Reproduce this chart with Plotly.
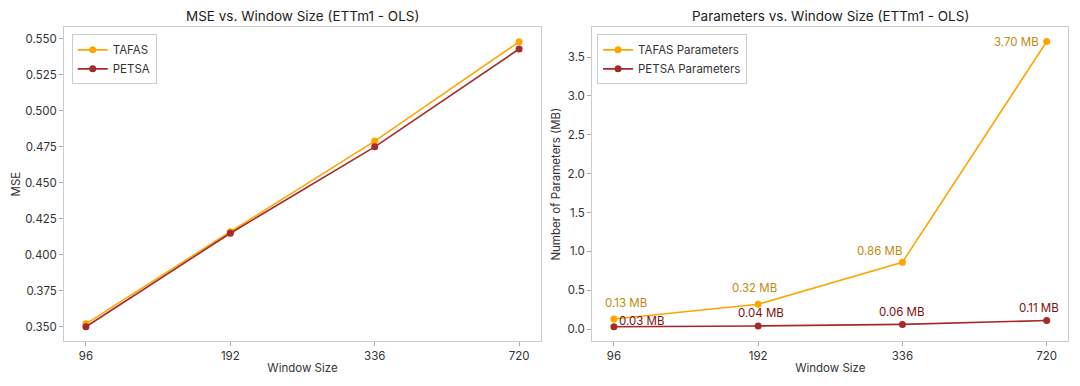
import plotly.graph_objects as go

# Data
window_sizes = ["96", "192", "336", "720"]
tafas_mse = [0.352, 0.416, 0.479, 0.548]
petsa_mse = [0.350, 0.415, 0.475, 0.543]
tafas_params = [0.13, 0.32, 0.86, 3.70]
petsa_params = [0.03, 0.04, 0.06, 0.11]

ORANGE = '#FFA500'
BROWN = '#A52A2A'
GOLD_TEXT = '#C08A10'
RED_TEXT = '#7A1010'
FRAME = '#cccccc'
TEXT = '#333333'

fig = go.Figure()

# MSE chart
fig.add_trace(go.Scatter(x=window_sizes, y=tafas_mse, mode='lines+markers', name='TAFAS',
                         line=dict(color=ORANGE, width=1.6), marker=dict(size=7),
                         xaxis='x', yaxis='y', legend='legend'))
fig.add_trace(go.Scatter(x=window_sizes, y=petsa_mse, mode='lines+markers', name='PETSA',
                         line=dict(color=BROWN, width=1.6), marker=dict(size=7),
                         xaxis='x', yaxis='y', legend='legend'))

# Parameter chart
fig.add_trace(go.Scatter(x=window_sizes, y=tafas_params, mode='lines+markers', name='TAFAS Parameters',
                         line=dict(color=ORANGE, width=1.6), marker=dict(size=7),
                         xaxis='x2', yaxis='y2', legend='legend2'))
fig.add_trace(go.Scatter(x=window_sizes, y=petsa_params, mode='lines+markers', name='PETSA Parameters',
                         line=dict(color=BROWN, width=1.6), marker=dict(size=7),
                         xaxis='x2', yaxis='y2', legend='legend2'))

# value labels (pixel offsets from each point); category axes want the index here
tafas_shift = [(12, 16), (-4, 16), (-23, 11), (-30, 0)]
petsa_shift = [(28, 6), (3, 13), (0, 12), (-8, 13)]
annotations = []
for ys, shifts, col in [(tafas_params, tafas_shift, GOLD_TEXT),
                        (petsa_params, petsa_shift, RED_TEXT)]:
    for i, (y, (dx, dy)) in enumerate(zip(ys, shifts)):
        annotations.append(dict(x=i, y=y, xref='x2', yref='y2', text=f'{y:.2f} MB',
                                showarrow=False, xshift=dx, yshift=dy,
                                font=dict(size=11.5, color=col)))

# subplot titles
annotations.append(dict(x=(0.0595 + 0.5007) / 2, y=1, xref='paper', yref='paper', yshift=-16,
                        text='MSE vs. Window Size (ETTm1 - OLS)', showarrow=False,
                        xanchor='center', yanchor='middle', font=dict(size=13.5, color='#222')))
annotations.append(dict(x=(0.5484 + 0.9892) / 2, y=1, xref='paper', yref='paper', yshift=-16,
                        text='Parameters vs. Window Size (ETTm1 - OLS)', showarrow=False,
                        xanchor='center', yanchor='middle', font=dict(size=13.5, color='#222')))

xaxis_style = dict(type='category', range=[-0.15, 3.15], showline=True, mirror=True,
                   linecolor=FRAME, linewidth=1.2, ticks='outside', ticklen=4, tickcolor='#aaaaaa',
                   showgrid=False, zeroline=False, tickfont=dict(size=11.5, color=TEXT),
                   title=dict(text='Window Size', font=dict(size=11.5, color=TEXT), standoff=2))
yaxis_style = dict(showline=True, mirror=True, linecolor=FRAME, linewidth=1.2, ticks='outside',
                   ticklen=4, tickcolor='#aaaaaa', showgrid=False, zeroline=False,
                   tickfont=dict(size=11.5, color=TEXT))

fig.update_layout(
    width=1080, height=386,
    margin=dict(l=0, r=0, t=0, b=0),
    paper_bgcolor='white', plot_bgcolor='white',
    font=dict(family='Inter, Roboto, sans-serif', color=TEXT),
    xaxis=dict(domain=[0.0595, 0.5007], anchor='y', **xaxis_style),
    yaxis=dict(domain=[0.1166, 0.9293], anchor='x', range=[0.3401, 0.5581],
               tickvals=[0.350, 0.375, 0.400, 0.425, 0.450, 0.475, 0.500, 0.525, 0.550],
               tickformat='.3f',
               title=dict(text='MSE', font=dict(size=11.5, color=TEXT), standoff=1), **yaxis_style),
    xaxis2=dict(domain=[0.5484, 0.9892], anchor='y2', **xaxis_style),
    yaxis2=dict(domain=[0.1166, 0.9293], anchor='x2', range=[-0.1535, 3.8835],
                tickvals=[0, 0.5, 1.0, 1.5, 2.0, 2.5, 3.0, 3.5], tickformat='.1f',
                title=dict(text='Number of Parameters (MB)', font=dict(size=11.5, color=TEXT), standoff=4),
                **yaxis_style),
    legend=dict(x=0.0664, y=0.911, xanchor='left', yanchor='top', bgcolor='white',
                bordercolor=FRAME, borderwidth=1, font=dict(size=11.5, color=TEXT),
                itemwidth=30, tracegroupgap=0),
    legend2=dict(x=0.5528, y=0.911, xanchor='left', yanchor='top', bgcolor='white',
                 bordercolor=FRAME, borderwidth=1, font=dict(size=11.5, color=TEXT),
                 itemwidth=30, tracegroupgap=0),
    annotations=annotations,
    showlegend=True,
)

# the default page has an 8px body margin; drop it so the figure sits at 0,0
fig.write_html("out.html", config={'displayModeBar': False},
               post_script="document.body.style.margin='0px';")
